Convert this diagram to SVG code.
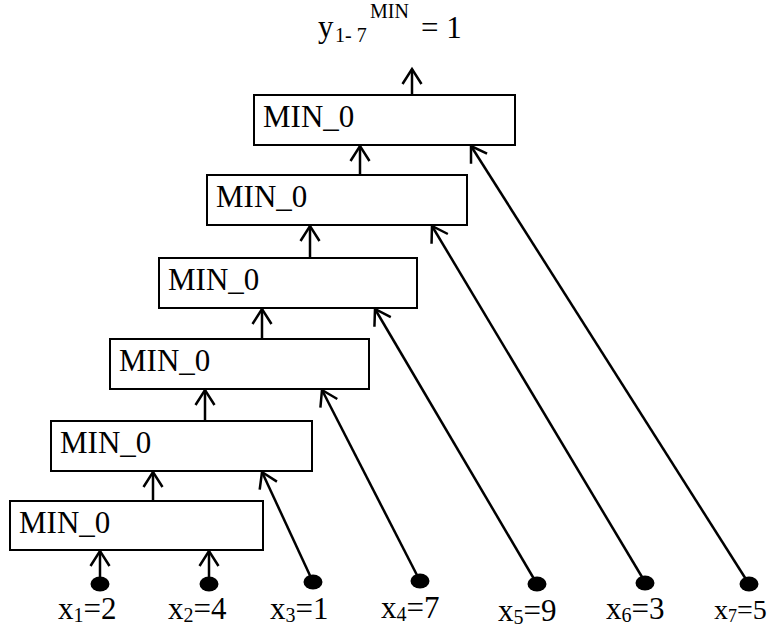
<svg xmlns="http://www.w3.org/2000/svg" width="769" height="627" viewBox="0 0 769 627">
<style>
.box{fill:#fff;stroke:#000;stroke-width:2}
.lbl{font-family:"Liberation Serif","Times New Roman",serif;font-size:31px;fill:#000}
.sub{font-size:20px}
.con{stroke:#000;stroke-width:2.5;fill:none;marker-end:url(#ah)}
.dot{fill:#000}
</style>
<defs>
<marker id="ah" markerUnits="userSpaceOnUse" viewBox="-18 -12 20 24" refX="0" refY="0" markerWidth="20" markerHeight="24" orient="auto" overflow="visible">
<path d="M-15,-9.5 L0,0 L-15,9.5" fill="none" stroke="#000" stroke-width="2.5"/>
</marker>
</defs>
<rect width="769" height="627" fill="#fff"/>
<g id="title">
<text class="lbl" x="318" y="37">y</text>
<text class="lbl sub" x="335" y="42">1- 7</text>
<text class="lbl sub" x="370" y="18">MIN</text>
<text class="lbl" x="421" y="38">= 1</text>
</g>
<g id="connectors">
<line class="con" x1="412" y1="95" x2="412" y2="69"/>
<line class="con" x1="360" y1="175" x2="360" y2="146"/>
<line class="con" x1="310" y1="258" x2="310" y2="226"/>
<line class="con" x1="262" y1="339" x2="262" y2="309"/>
<line class="con" x1="205" y1="421" x2="205" y2="390"/>
<line class="con" x1="153" y1="501" x2="153" y2="472"/>
<line class="con" x1="100" y1="583" x2="100" y2="551"/>
<line class="con" x1="209" y1="583" x2="209" y2="551"/>
<line class="con" x1="313" y1="582" x2="262" y2="472"/>
<line class="con" x1="420" y1="581" x2="322" y2="390"/>
<line class="con" x1="537" y1="584" x2="375" y2="309"/>
<line class="con" x1="645" y1="582" x2="432" y2="226"/>
<line class="con" x1="749" y1="584" x2="471" y2="146"/>
</g>
<g id="min1"><rect class="box" x="254" y="95" width="261" height="50"/><text class="lbl" x="263" y="127">MIN_0</text></g>
<g id="min2"><rect class="box" x="207" y="175" width="260" height="50"/><text class="lbl" x="216" y="207">MIN_0</text></g>
<g id="min3"><rect class="box" x="159" y="258" width="258" height="50"/><text class="lbl" x="168" y="290">MIN_0</text></g>
<g id="min4"><rect class="box" x="110" y="339" width="259" height="50"/><text class="lbl" x="119" y="371">MIN_0</text></g>
<g id="min5"><rect class="box" x="51" y="421" width="261" height="50"/><text class="lbl" x="60" y="453">MIN_0</text></g>
<g id="min6"><rect class="box" x="10" y="501" width="253" height="49"/><text class="lbl" x="19" y="533">MIN_0</text></g>
<g id="in1"><ellipse class="dot" cx="100" cy="584" rx="9.5" ry="7.5"/><text class="lbl" x="58" y="619">x<tspan class="sub" dy="3">1</tspan><tspan dy="-3">=2</tspan></text></g>
<g id="in2"><ellipse class="dot" cx="209" cy="584" rx="9.5" ry="7.5"/><text class="lbl" x="168" y="619">x<tspan class="sub" dy="3">2</tspan><tspan dy="-3">=4</tspan></text></g>
<g id="in3"><ellipse class="dot" cx="313" cy="582" rx="9.5" ry="7.5"/><text class="lbl" x="270" y="619">x<tspan class="sub" dy="3">3</tspan><tspan dy="-3">=1</tspan></text></g>
<g id="in4"><ellipse class="dot" cx="420" cy="581" rx="9.5" ry="7.5"/><text class="lbl" x="381" y="618">x<tspan class="sub" dy="3">4</tspan><tspan dy="-3">=7</tspan></text></g>
<g id="in5"><ellipse class="dot" cx="537" cy="584" rx="9.5" ry="7.5"/><text class="lbl" x="498" y="621">x<tspan class="sub" dy="3">5</tspan><tspan dy="-3">=9</tspan></text></g>
<g id="in6"><ellipse class="dot" cx="645" cy="583" rx="9.5" ry="7.5"/><text class="lbl" x="606" y="619">x<tspan class="sub" dy="3">6</tspan><tspan dy="-3">=3</tspan></text></g>
<g id="in7"><ellipse class="dot" cx="749" cy="584" rx="9.5" ry="7.5"/><text class="lbl" x="714" y="619" style="font-size:28px">x<tspan style="font-size:18px" dy="3">7</tspan><tspan dy="-3">=5</tspan></text></g>
</svg>
